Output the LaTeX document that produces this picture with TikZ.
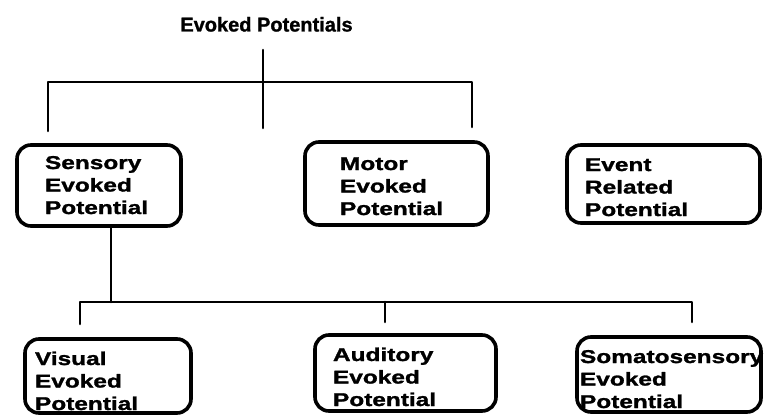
\documentclass[tikz,border=0pt]{standalone}
\usepackage{fontspec}
\setmainfont{Liberation Sans}[BoldFont={Liberation Sans Bold}]
\newfontfamily\titlefont{Liberation Sans Bold}[FakeBold=1.2]
\newfontfamily\boxfont{Liberation Sans Bold}[FakeStretch=1.32,FakeBold=1.5]

\begin{document}
\begin{tikzpicture}[line cap=round,line join=round,x=1pt,y=-1pt,
  link/.style={line width=2.6pt},
  epbox/.style={draw,line width=3.6pt,rounded corners=14pt,anchor=north west,
    outer sep=0pt,inner ysep=0pt,align=left,
    font=\boxfont\fontsize{18.5}{22.5}\selectfont}]
\useasboundingbox (0,0) rectangle (767,417);
\node[font=\titlefont\fontsize{20}{24}\selectfont,anchor=base] (title) at (266.5,31.5) {Evoked Potentials};
% first row
\node[epbox,text width=108pt,inner xsep=28pt,text height=24pt,text depth=57pt] (sensory) at (17,145) {Sensory\\Evoked\\Potential};
\node[epbox,text width=113pt,inner xsep=35pt,text height=28pt,text depth=55pt] (motor) at (305,142) {Motor\\Evoked\\Potential};
\node[epbox,text width=157pt,inner xsep=18pt,text height=26pt,text depth=52pt] (event) at (567,145) {Event\\Related\\Potential};
% second row
\node[epbox,text width=146pt,inner xsep=10pt,text height=26pt,text depth=48pt] (visual) at (25,339) {Visual\\Evoked\\Potential};
\node[epbox,text width=145pt,inner xsep=18pt,text height=26pt,text depth=50pt] (auditory) at (315,335) {Auditory\\Evoked\\Potential};
\node[epbox,text width=178pt,inner xsep=3pt,text height=26pt,text depth=49pt] (somato) at (577,337) {Somatosensory\\Evoked\\Potential};
% tree lines
\coordinate (topA) at (263,50);
\coordinate (barAw) at (48,82);
\coordinate (barAe) at (472,82);
\coordinate (dropS) at (48,131);
\coordinate (dropM) at (263,128);
\coordinate (dropE) at (472,127);
\draw[link] (topA) -- (dropM);
\draw[link] (dropS) -- (barAw) -- (barAe) -- (dropE);
\coordinate (hubB) at (111,302);
\coordinate (barBw) at (80,302);
\coordinate (barBe) at (692,302);
\coordinate (dropV) at (80,324);
\coordinate (dropA) at (385,322);
\coordinate (dropSo) at (692,322);
\draw[link] (sensory.south -| hubB) -- (hubB);
\draw[link] (dropV) -- (barBw) -- (barBe) -- (dropSo);
\draw[link] (dropA |- barBw) -- (dropA);
\end{tikzpicture}
\end{document}
